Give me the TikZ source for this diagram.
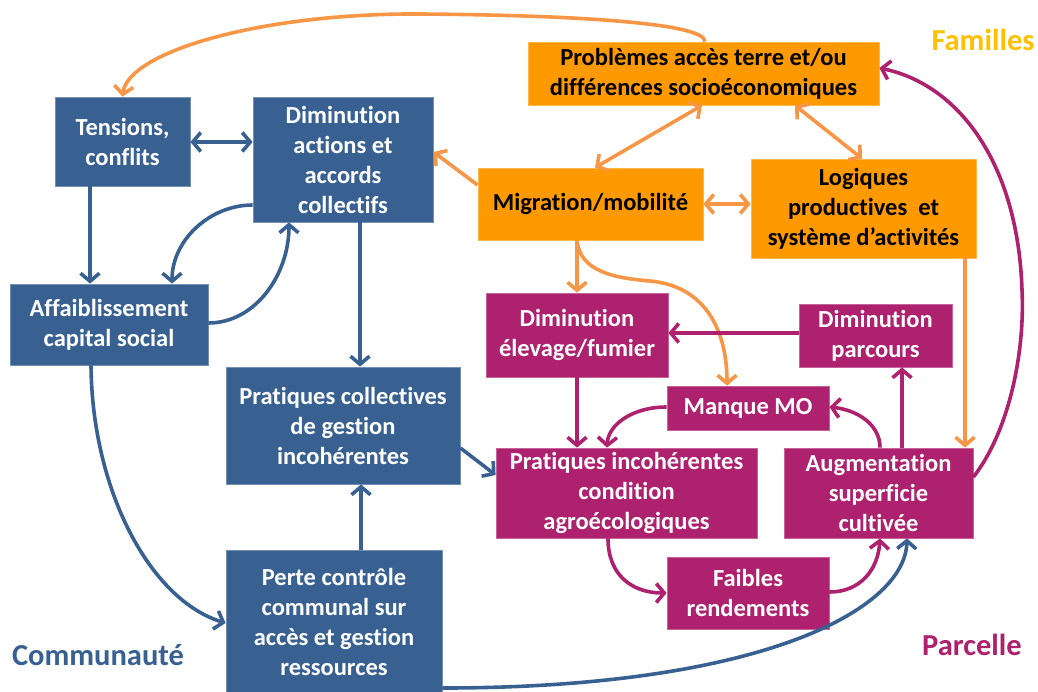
\documentclass[tikz,border=0pt]{standalone}
\usepackage{fontspec}
\setmainfont{Carlito}[Ligatures=NoCommon]
\usetikzlibrary{arrows.meta}
\definecolor{cblue}{RGB}{56,97,146}
\definecolor{corange}{RGB}{255,153,0}
\definecolor{cpurple}{RGB}{173,33,110}
\definecolor{carrow}{RGB}{247,150,70}
\definecolor{cyellow}{RGB}{255,192,0}
\tikzset{
  box/.style={rectangle, inner sep=0pt, align=center, font=\fontsize{24.5}{30}\selectfont\bfseries},
  bluebox/.style={box, fill=cblue, draw=cblue!70!white, line width=0.8pt, text=white},
  orangebox/.style={box, fill=corange, draw=corange!70!white, line width=0.8pt, text=black},
  purplebox/.style={box, fill=cpurple, draw=cpurple!70!white, line width=0.8pt, text=white},
  arr/.style={line width=3.6pt, -{Straight Barb[length=8pt,width=19pt]}},
  darr/.style={line width=3.6pt, {Straight Barb[length=8pt,width=19pt]}-{Straight Barb[length=8pt,width=19pt]}},
  barr/.style={arr, draw=cblue},
  oarr/.style={arr, draw=carrow},
  parr/.style={arr, draw=cpurple},
  label/.style={font=\fontsize{30.5}{36}\selectfont\bfseries},
}
\begin{document}
\begin{tikzpicture}[x=1pt,y=-1pt]
\useasboundingbox (0,0) rectangle (1038,691);
% blue boxes
\node[bluebox, minimum width=135pt, minimum height=89pt] (tens) at (122.5,141.5) {Tensions,\\conflits};
\node[bluebox, minimum width=180pt, minimum height=125pt] (dimact) at (343,159.5) {Diminution\\actions et\\accords\\collectifs};
\node[bluebox, minimum width=198pt, minimum height=81pt] (affai) at (109,324.5) {Affaiblissement\\capital social};
\node[bluebox, minimum width=234pt, minimum height=117pt] (pratcol) at (343,425.5) {Pratiques collectives\\de gestion\\incohérentes};
\node[bluebox, minimum width=216pt, minimum height=143pt] (perte) at (334,621.5) {Perte contrôle\\communal sur\\accès et gestion\\ressources};
% orange boxes
\node[orangebox, minimum width=351pt, minimum height=63pt] (prob) at (703.5,73.5) {Problèmes accès terre et/ou\\différences socioéconomiques};
\node[orangebox, minimum width=225pt, minimum height=72pt] (migr) at (590.5,204) {Migration/mobilité};
\node[orangebox, minimum width=225pt, minimum height=99pt] (logi) at (863.5,208.5) {Logiques\\productives\ \ et\\système d’activités};
% purple boxes
\node[purplebox, minimum width=182pt, minimum height=84pt] (elev) at (577,335) {Diminution\\élevage/fumier};
\node[purplebox, minimum width=153pt, minimum height=63pt] (parc) at (875.5,335.5) {Diminution\\parcours};
\node[purplebox, minimum width=162pt, minimum height=44pt] (manq) at (748,408) {Manque MO};
\node[purplebox, minimum width=261pt, minimum height=90pt] (pinc) at (626.5,493) {Pratiques incohérentes\\condition\\agroécologiques};
\node[purplebox, minimum width=189pt, minimum height=90pt] (augm) at (878.5,493) {Augmentation\\superficie\\cultivée};
\node[purplebox, minimum width=162pt, minimum height=72pt] (faib) at (748,593) {Faibles\\rendements};
% labels
\node[label, text=cyellow] (lfam) at (983,40) {Familles};
\node[label, text=cpurple] (lpar) at (972,645) {Parcelle};
\node[label, text=cblue] (lcom) at (98,655) {Communauté};
% orange connectors
\draw[oarr] (prob.north -| 705,0) .. controls (705,22) and (560,15) .. (420,14) .. controls (260,13) and (128,52) .. (tens.north);
\draw[oarr] (migr.west |- 0,185) -- (dimact.east |- 0,152);
\draw[darr, draw=carrow] (prob.south -| 702,0) -- (migr.north -| 595,0);
\draw[darr, draw=carrow] (prob.south -| 795,0) -- (logi.north -| 862,0);
\draw[darr, draw=carrow] (migr.east) -- (logi.west |- migr.east);
\draw[oarr] (migr.south -| 577,0) -- (elev.north -| 577,0);
\draw[oarr] (migr.south -| 577,0) .. controls (580,272) and (615,278) .. (650,281) .. controls (705,286) and (727,330) .. (manq.north -| 727,0);
\draw[oarr] (logi.south -| 965,0) -- (augm.north -| 965,0);
% blue connectors
\draw[darr, draw=cblue] (tens.east |- 0,142) -- (dimact.west |- 0,142);
\draw[barr] (tens.south -| 90,0) -- (affai.north -| 90,0);
\draw[barr] (dimact.west |- 0,205) .. controls (210,205) and (172,240) .. (affai.north -| 172,0);
\draw[barr] (affai.east |- 0,323) .. controls (255,323) and (289,275) .. (dimact.south -| 289,0);
\draw[barr] (dimact.south -| 360,0) -- (pratcol.north -| 360,0);
\draw[barr] (affai.south -| 91,0) .. controls (92,490) and (150,600) .. (perte.west |- 0,623);
\draw[barr] (perte.north -| 361,0) -- (pratcol.south -| 361,0);
\draw[barr] (pratcol.east |- 0,448) -- (pinc.west |- 0,475);
\draw[barr] (perte.east |- 0,688) .. controls (760,688) and (905,610) .. (augm.south -| 907,0);
% purple connectors
\draw[parr] (parc.west |- 0,333) -- (elev.east |- 0,333);
\draw[parr] (elev.south -| 577,0) -- (pinc.north -| 577,0);
\draw[parr] (manq.west |- 0,407) .. controls (632,407) and (608,425) .. (pinc.north -| 607,0);
\draw[parr] (augm.north -| 880,0) .. controls (880,425) and (858,410) .. (manq.east |- 0,407);
\draw[parr] (augm.north -| 902,0) -- (parc.south -| 902,0);
\draw[parr] (pinc.south -| 608,0) .. controls (608,575) and (632,593) .. (faib.west |- 0,593);
\draw[parr] (faib.east |- 0,592) .. controls (860,592) and (878,570) .. (augm.south -| 880,0);
\draw[parr] (augm.east |- 0,477) .. controls (1010,430) and (1025,350) .. (1022,290) .. controls (1018,165) and (960,85) .. (prob.east |- 0,68);
\end{tikzpicture}
\end{document}
